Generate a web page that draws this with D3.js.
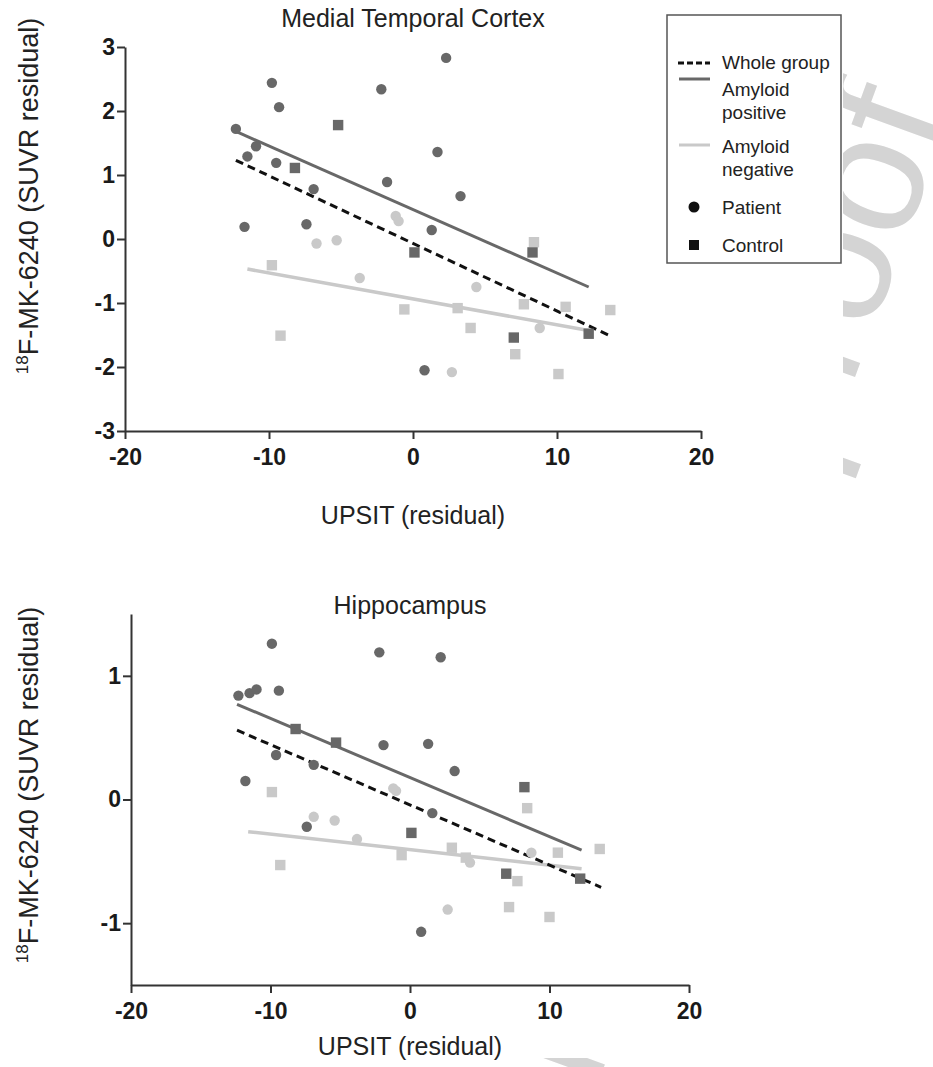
<!DOCTYPE html>
<html>
<head>
<meta charset="utf-8">
<script src="https://cdn.jsdelivr.net/npm/d3@7"></script>
<style>
  body { margin: 0; background: #fff; }
  svg { display: block; font-family: "Liberation Sans", Arial, Helvetica, sans-serif; }
</style>
</head>
<body>
<svg id="chart" width="933" height="1067"></svg>
<script>
// ---- data: [UPSIT residual, SUVR residual] ----
// Medial temporal cortex
var mtcPosPatients = [[-9.8, 2.44], [-9.3, 2.06], [-12.3, 1.72], [-10.9, 1.45], [-11.5, 1.29], [-9.5, 1.19],
    [-6.9, 0.78], [-2.2, 2.34], [-1.8, 0.89], [-11.7, 0.19], [-7.4, 0.23], [2.3, 2.83], [1.7, 1.36],
    [3.3, 0.67], [1.3, 0.14], [0.8, -2.05]];
var mtcNegPatients = [[-1.2, 0.36], [-1.0, 0.28], [-6.7, -0.07], [-5.3, -0.02], [-3.7, -0.61], [4.4, -0.75],
    [8.8, -1.39], [2.7, -2.08]];
var mtcPosControls = [[-8.2, 1.11], [-5.2, 1.78], [0.1, -0.21], [8.3, -0.21], [7.0, -1.54], [12.2, -1.48]];
var mtcNegControls = [[-9.8, -0.41], [-9.2, -1.51], [8.4, -0.05], [-0.6, -1.10], [3.1, -1.08], [7.7, -1.02],
    [10.6, -1.06], [13.7, -1.11], [4.0, -1.39], [7.1, -1.80], [10.1, -2.11]];
var mtcWholeLine = [[-12.3, 1.23], [13.75, -1.52]];
var mtcPosLine = [[-12.3, 1.68], [12.2, -0.75]];
var mtcNegLine = [[-11.5, -0.47], [12.2, -1.43]];

// Hippocampus
var hipPosPatients = [[-9.9, 1.26], [-2.2, 1.19], [-12.3, 0.84], [-11.5, 0.86], [-11.0, 0.89], [-9.4, 0.88],
    [-1.9, 0.44], [-9.6, 0.36], [-6.9, 0.28], [-11.8, 0.15], [-7.4, -0.22], [2.2, 1.15], [1.3, 0.45],
    [3.2, 0.23], [1.6, -0.11], [0.8, -1.07]];
var hipNegPatients = [[-1.2, 0.09], [-1.0, 0.07], [-6.9, -0.14], [-5.4, -0.17], [-3.8, -0.32], [4.3, -0.51],
    [8.7, -0.43], [2.7, -0.89]];
var hipPosControls = [[-8.2, 0.57], [-5.3, 0.46], [0.1, -0.27], [8.2, 0.10], [6.9, -0.60], [12.2, -0.64]];
var hipNegControls = [[-9.9, 0.06], [-9.3, -0.53], [8.4, -0.07], [-0.6, -0.45], [3.0, -0.39], [4.0, -0.47],
    [10.6, -0.43], [13.6, -0.40], [7.7, -0.66], [7.1, -0.87], [10.0, -0.95]];
var hipWholeLine = [[-12.4, 0.56], [13.7, -0.71]];
var hipPosLine = [[-12.4, 0.77], [12.3, -0.41]];
var hipNegLine = [[-11.6, -0.26], [12.3, -0.56]];

var xTicks = [-20, -10, 0, 10, 20];
var mtcYTicks = [-3, -2, -1, 0, 1, 2, 3];
var hipYTicks = [-1, 0, 1];
var legendLabels = [["Whole group"], ["Amyloid", "positive"], ["Amyloid", "negative"], ["Patient"], ["Control"]];

var darkGrey = "#686868";
var lightGrey = "#c9c9c9";
var axisColor = "#333";

var svg = d3.select("#chart");

// page watermark, only visible outside the figure
var clip = svg.append("clipPath").attr("id", "outside-figure");
clip.append("rect").attr("x", 843).attr("y", 0).attr("width", 90).attr("height", 1067);
clip.append("rect").attr("x", 0).attr("y", 1058).attr("width", 933).attr("height", 9);
svg.append("g")
    .attr("clip-path", "url(#outside-figure)")
  .append("text")
    .attr("transform", "translate(502,1347) rotate(-70)")
    .attr("font-size", 170).attr("fill", "#d4d4d4")
    .text("Journal Pre-proof");

function drawPanel(opt) {
    var x = d3.scaleLinear().domain([-20, 20]).range([opt.left, opt.right]);
    var y = d3.scaleLinear().domain(opt.yDomain).range([opt.bottom, opt.top]);
    var g = svg.append("g");

    // regression lines under the points
    var line = d3.line().x(d => x(d[0])).y(d => y(d[1]));
    g.append("path").datum(opt.negLine).attr("d", line)
        .attr("stroke", lightGrey).attr("stroke-width", 3.5).attr("fill", "none");
    g.append("path").datum(opt.posLine).attr("d", line)
        .attr("stroke", darkGrey).attr("stroke-width", 3).attr("fill", "none");
    g.append("path").datum(opt.wholeLine).attr("d", line)
        .attr("stroke", "#111").attr("stroke-width", 3).attr("stroke-dasharray", "8,5").attr("fill", "none");

    // points
    function circles(data, color) {
        g.selectAll(null).data(data).enter().append("circle")
            .attr("cx", d => x(d[0])).attr("cy", d => y(d[1])).attr("r", 5.2)
            .attr("fill", color);
    }
    function squares(data, color) {
        g.selectAll(null).data(data).enter().append("rect")
            .attr("x", d => x(d[0]) - 5.2).attr("y", d => y(d[1]) - 5.2)
            .attr("width", 10.4).attr("height", 10.4)
            .attr("fill", color);
    }
    squares(opt.negControls, lightGrey);
    circles(opt.negPatients, lightGrey);
    squares(opt.posControls, darkGrey);
    circles(opt.posPatients, darkGrey);

    // axes
    var yAxis = g.append("g")
        .attr("transform", `translate(${opt.left},0)`)
        .call(d3.axisLeft(y).tickValues(opt.yTicks).tickSize(8).tickSizeOuter(0).tickFormat(d => String(d)));
    var xAxis = g.append("g")
        .attr("transform", `translate(0,${opt.bottom})`)
        .call(d3.axisBottom(x).tickValues(xTicks).tickSize(8).tickSizeOuter(0).tickFormat(d => String(d)));
    [yAxis, xAxis].forEach(function(a) {
        a.select(".domain").attr("stroke", axisColor).attr("stroke-width", 2);
        a.selectAll(".tick line").attr("stroke", axisColor).attr("stroke-width", 2);
        a.selectAll(".tick text").attr("fill", "#1a1a1a").attr("font-size", 23).attr("font-weight", "bold")
            .attr("font-family", "Liberation Sans, Arial, sans-serif");
    });
    yAxis.selectAll(".tick text").attr("x", -10);
    xAxis.selectAll(".tick text").attr("y", 18);

    // title and axis titles
    g.append("text").attr("x", (opt.left + opt.right) / 2).attr("y", opt.titleY)
        .attr("text-anchor", "middle").attr("font-size", 25).attr("fill", "#222").text(opt.title);
    g.append("text").attr("x", (opt.left + opt.right) / 2).attr("y", opt.xLabelY)
        .attr("text-anchor", "middle").attr("font-size", 25).attr("fill", "#222").text("UPSIT (residual)");
    var yl = g.append("text")
        .attr("transform", `translate(38,${opt.yLabelY}) rotate(-90)`)
        .attr("text-anchor", "middle").attr("font-size", 27).attr("fill", "#222");
    yl.append("tspan").attr("font-size", 17).attr("dy", -10).text("18");
    yl.append("tspan").attr("dy", 10).text("F-MK-6240 (SUVR residual)");
}

drawPanel({
    left: 125, right: 701, top: 47, bottom: 431, yDomain: [-3, 3], yTicks: mtcYTicks,
    title: "Medial Temporal Cortex", titleY: 27, xLabelY: 524, yLabelY: 196,
    posPatients: mtcPosPatients, negPatients: mtcNegPatients,
    posControls: mtcPosControls, negControls: mtcNegControls,
    wholeLine: mtcWholeLine, posLine: mtcPosLine, negLine: mtcNegLine
});

drawPanel({
    left: 131, right: 689, top: 614, bottom: 985, yDomain: [-1.5, 1.5], yTicks: hipYTicks,
    title: "Hippocampus", titleY: 614, xLabelY: 1055, yLabelY: 785,
    posPatients: hipPosPatients, negPatients: hipNegPatients,
    posControls: hipPosControls, negControls: hipNegControls,
    wholeLine: hipWholeLine, posLine: hipPosLine, negLine: hipNegLine
});

// legend
var legend = svg.append("g");
legend.append("rect").attr("x", 667).attr("y", 15).attr("width", 174).attr("height", 248)
    .attr("fill", "#fff").attr("stroke", "#555").attr("stroke-width", 1.5);
var legendRows = [63, 79, 145, 207, 245];
var legendTextY = [[69], [96, 119], [153, 176], [214], [252]];
legendLabels.forEach(function(lines, i) {
    var yRow = legendRows[i];
    if (i === 0) {
        legend.append("line").attr("x1", 678).attr("x2", 710).attr("y1", yRow).attr("y2", yRow)
            .attr("stroke", "#111").attr("stroke-width", 3).attr("stroke-dasharray", "6,3");
    } else if (i === 1 || i === 2) {
        legend.append("line").attr("x1", 679).attr("x2", 710).attr("y1", yRow).attr("y2", yRow)
            .attr("stroke", i === 1 ? darkGrey : lightGrey).attr("stroke-width", 3);
    } else if (i === 3) {
        legend.append("circle").attr("cx", 694).attr("cy", yRow).attr("r", 5.5).attr("fill", "#111");
    } else {
        legend.append("rect").attr("x", 689).attr("y", yRow - 5).attr("width", 10).attr("height", 10)
            .attr("fill", "#111");
    }
    lines.forEach(function(t, j) {
        legend.append("text").attr("x", 722).attr("y", legendTextY[i][j])
            .attr("font-size", 19).attr("fill", "#222").text(t);
    });
});
</script>
</body>
</html>
